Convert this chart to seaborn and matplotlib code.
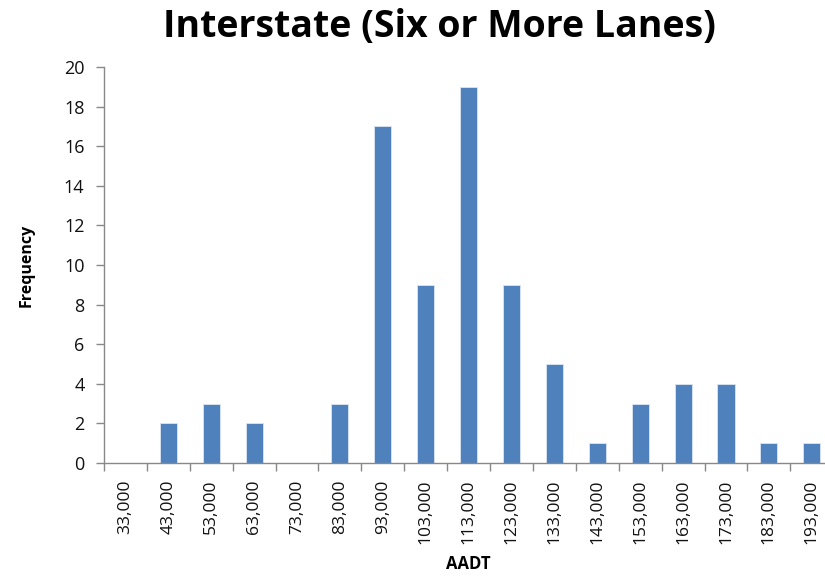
import seaborn as sns
import matplotlib.pyplot as plt
import numpy as np
import pandas as pd

# AADT bins and counts
aadt_bins = ["33,000", "43,000", "53,000", "63,000", "73,000", "83,000",
             "93,000", "103,000", "113,000", "123,000", "133,000", "143,000",
             "153,000", "163,000", "173,000", "183,000", "193,000"]
frequency = [0, 2, 3, 2, 0, 3, 17, 9, 19, 9, 5, 1, 3, 4, 4, 1, 1]

df = pd.DataFrame({"AADT": aadt_bins, "Frequency": frequency})

sns.set_theme(style="white")
plt.rcParams['font.family'] = ['Open Sans', 'DejaVu Sans']

fig = plt.figure(figsize=(8.25, 5.78), dpi=100)
ax = fig.add_axes([0.126, 0.199, 0.884, 0.685])

sns.barplot(data=df, x="AADT", y="Frequency", color="#4F81BD", width=0.4,
            edgecolor="#dce6f2", linewidth=0.6, saturation=1, ax=ax)

ax.set_xlim(-0.5, len(aadt_bins) - 0.5)
ax.set_ylim(0, 20)
ax.set_yticks(range(0, 21, 2))
ax.tick_params(axis='y', direction='out', length=6, color='#888888', width=1,
               labelsize=13, left=True, labelcolor='#111111', pad=8)
ax.tick_params(axis='x', which='major', length=0, labelsize=12.5, labelrotation=90,
               pad=12, labelcolor='#111111')
ax.set_xticks(np.arange(-0.5, len(aadt_bins)), minor=True)
ax.tick_params(axis='x', which='minor', direction='out', length=6, color='#888888',
               width=1, bottom=True)

for side in ['top', 'right']:
    ax.spines[side].set_visible(False)
for side in ['left', 'bottom']:
    ax.spines[side].set_color('#888888')
    ax.spines[side].set_linewidth(1)

ax.set_xlabel("AADT", fontsize=12, fontweight='bold', labelpad=8, color='black')
ax.set_ylabel("Frequency", fontsize=11.5, fontweight='bold', labelpad=21, color='black')
fig.suptitle("Interstate (Six or More Lanes)", fontsize=27, fontweight='bold',
             x=0.533, y=0.987, color='black')

fig.savefig("out.png", dpi=100)
